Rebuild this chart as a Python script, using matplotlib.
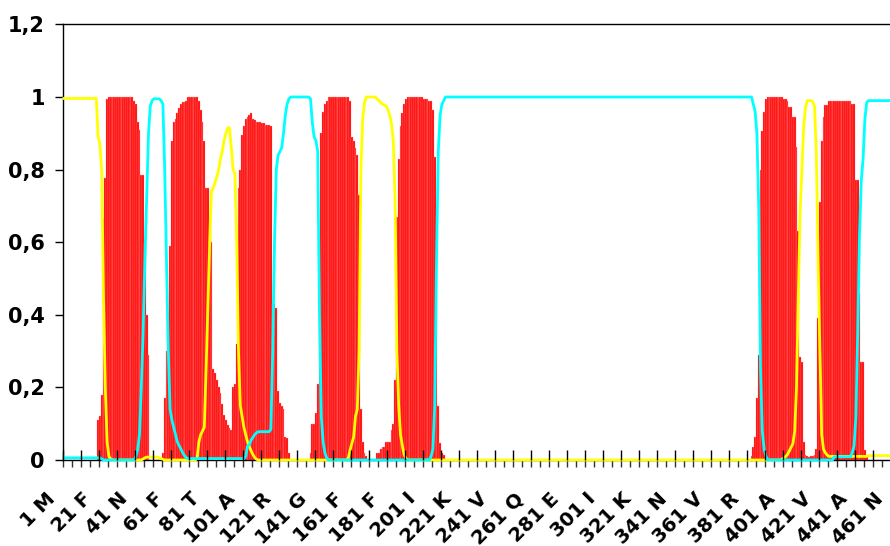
import numpy as np
import matplotlib
matplotlib.use("Agg")
import matplotlib.pyplot as plt
import matplotlib.transforms as mtransforms

plt.rcParams["font.family"] = ["DejaVu Sans"]
plt.rcParams["font.weight"] = "bold"

# posterior probabilities per residue (1..461)
# membrane (red bars)
membrane = (
    [0.0] * 19                                                     # 1-19
    + [0.11, 0.12, 0.18, 0.665, 0.776, 0.995]                      # 20-25
    + [1.0] * 14                                                   # 26-39
    + [0.99, 0.98, 0.93, 0.91, 0.785, 0.785, 0.6, 0.40, 0.29, 0.0]  # 40-49
    + [0.0] * 6                                                    # 50-55
    + [0.02, 0.17, 0.30, 0.39, 0.59, 0.88, 0.93, 0.94, 0.955, 0.97,
       0.98, 0.985, 0.985, 0.99]                                   # 56-69
    + [1.0] * 6                                                    # 70-75
    + [0.99, 0.965, 0.93, 0.88, 0.75, 0.75, 0.66, 0.6, 0.25, 0.24,
       0.22, 0.20, 0.185, 0.155, 0.125, 0.11, 0.096, 0.087, 0.083]  # 76-94
    + [0.20, 0.21, 0.32, 0.75, 0.80, 0.895, 0.92, 0.94, 0.946, 0.95,
       0.955, 0.94, 0.936, 0.932, 0.932, 0.932, 0.927, 0.927, 0.922, 0.922,
       0.922, 0.92, 0.43, 0.43, 0.42, 0.19, 0.156, 0.15, 0.14, 0.064,
       0.06, 0.018]                                                # 95-126
    + [0.0] * 11                                                   # 127-137
    + [0.02, 0.10, 0.10, 0.13, 0.21, 0.6, 0.9, 0.96, 0.98, 0.99]   # 138-147
    + [1.0] * 12                                                   # 148-159
    + [0.99, 0.89, 0.88, 0.86, 0.84, 0.73, 0.14, 0.05, 0.02, 0.01, 0.0]  # 160-170
    + [0.0] * 4                                                    # 171-174
    + [0.02, 0.02, 0.03, 0.037, 0.037, 0.05, 0.05, 0.05, 0.083, 0.10,
       0.22, 0.67, 0.83, 0.92, 0.955, 0.98, 0.995]                 # 175-191
    + [1.0] * 9                                                    # 192-200
    + [0.995, 0.995, 0.995, 0.99, 0.99, 0.964, 0.835, 0.43, 0.15, 0.046,
       0.018, 0.015, 0.0]                                          # 201-213
    + [0.0] * 169                                                  # 214-382
    + [0.01, 0.037, 0.064, 0.17, 0.29, 0.8, 0.905, 0.96, 0.995, 1.0]  # 383-392
    + [1.0] * 8                                                    # 393-400
    + [0.995, 0.995, 0.99, 0.973, 0.973, 0.946, 0.946, 0.863, 0.63, 0.285,
       0.27, 0.05, 0.014, 0.01, 0.008, 0.01, 0.012, 0.014, 0.03]   # 401-419
    + [0.39, 0.71, 0.88, 0.946, 0.978, 0.978, 0.99]                # 420-426
    + [0.99] * 12                                                  # 427-438
    + [0.98, 0.98, 0.77, 0.77, 0.46, 0.27, 0.27, 0.028, 0.01]      # 439-447
    + [0.0] * 14                                                   # 448-461
)

# inside (yellow line)
inside = (
    [0.996] * 19                                                   # 1-19
    + [0.89, 0.87, 0.8, 0.45, 0.2, 0.05, 0.01, 0.003]              # 20-27
    + [0.0] * 17                                                   # 28-44
    + [0.003, 0.006, 0.008, 0.008, 0.008, 0.008, 0.008, 0.008, 0.008,
       0.006, 0.004, 0.002]                                        # 45-56
    + [0.0] * 18                                                   # 57-74
    + [0.005, 0.05, 0.07, 0.08, 0.09, 0.25, 0.42, 0.6, 0.74, 0.75,
       0.765, 0.78, 0.80, 0.83, 0.85, 0.88, 0.90, 0.915, 0.915, 0.86,
       0.80, 0.79, 0.6, 0.3, 0.15, 0.12, 0.09, 0.07, 0.05, 0.037,
       0.025, 0.015, 0.007, 0.002]                                 # 75-108
    + [0.0] * 50                                                   # 109-158
    + [0.005, 0.028, 0.046, 0.064, 0.12, 0.14, 0.3, 0.8, 0.94, 0.985,
       1.0, 1.0, 1.0, 1.0, 1.0, 1.0]                               # 159-174
    + [0.995, 0.99, 0.985, 0.98, 0.978, 0.975, 0.965, 0.95, 0.925, 0.88,
       0.72, 0.3, 0.15, 0.07, 0.04, 0.015, 0.005, 0.0]             # 175-192
    + [0.0] * 207                                                  # 193-399
    + [0.003, 0.005, 0.01, 0.015, 0.025, 0.035, 0.045, 0.08, 0.2, 0.45,
       0.68, 0.8, 0.92, 0.97, 0.99, 0.99, 0.99, 0.987, 0.975, 0.85,
       0.55, 0.3, 0.07, 0.03, 0.02, 0.014]                         # 400-425
    + [0.01] * 22                                                  # 426-447
    + [0.012] * 14                                                 # 448-461
)

# outside (cyan line)
outside = (
    [0.006] * 21                                                   # 1-21
    + [0.003]                                                      # 22
    + [0.0] * 18                                                   # 23-40
    + [0.01, 0.03, 0.07, 0.2, 0.35, 0.55, 0.72, 0.9, 0.975, 0.99,
       0.995, 0.995, 0.995, 0.995, 0.99, 0.98]                     # 41-56
    + [0.8, 0.55, 0.3, 0.14, 0.11, 0.09, 0.07, 0.05, 0.04, 0.03,
       0.02, 0.012, 0.006]                                         # 57-69
    + [0.004] * 32                                                 # 70-101
    + [0.01, 0.038, 0.042, 0.055, 0.062, 0.07, 0.075, 0.078, 0.078, 0.078,
       0.078, 0.078, 0.078, 0.078, 0.085, 0.3, 0.6, 0.8, 0.84, 0.85,
       0.86, 0.9, 0.95, 0.98, 0.995]                               # 102-126
    + [1.0] * 11                                                   # 127-137
    + [0.995, 0.93, 0.89, 0.88, 0.85, 0.4, 0.12, 0.05, 0.02, 0.005]  # 138-147
    + [0.0] * 57                                                   # 148-204
    + [0.01, 0.03, 0.15, 0.55, 0.85, 0.95, 0.98, 0.99]             # 205-212
    + [1.0] * 171                                                  # 213-383
    + [0.98, 0.96, 0.9, 0.7, 0.25, 0.08, 0.03, 0.01]               # 384-391
    + [0.0] * 37                                                   # 392-428
    + [0.009] * 10                                                 # 429-438
    + [0.02, 0.04, 0.12, 0.35, 0.62, 0.77, 0.83, 0.94, 0.985]      # 439-447
    + [0.99] * 14                                                  # 448-461
)

residues = np.arange(1, len(membrane) + 1)

# x tick labels (every 20 residues)
label_pos = [1, 21, 41, 61, 81, 101, 121, 141, 161, 181, 201, 221, 241,
             261, 281, 301, 321, 341, 361, 381, 401, 421, 441, 461]
label_txt = ["1 M", "21 F", "41 N", "61 F", "81 T", "101 A", "121 R", "141 G",
             "161 F", "181 F", "201 I", "221 K", "241 V", "261 Q", "281 E",
             "301 I", "321 K", "341 N", "361 V", "381 R", "401 A", "421 V",
             "441 A", "461 N"]
y_ticks = [0, 0.2, 0.4, 0.6, 0.8, 1.0, 1.2]
y_labels = ["0", "0,2", "0,4", "0,6", "0,8", "1", "1,2"]

W, H = 890, 546
fig = plt.figure(figsize=(W / 100, H / 100), dpi=100)
ax = fig.add_axes([63 / W, 86 / H, 461 * 1.8 / W, 1.2 * 363 / H])

ax.bar(residues, membrane, width=1.0, color="#ff0000",
       edgecolor="#ff9a9a", linewidth=0.25, zorder=2)
ax.plot(residues, inside, color="#ffff00", lw=2, zorder=3, clip_on=False)
ax.plot(residues, outside, color="#00ffff", lw=2, zorder=4, clip_on=False)

ax.set_xlim(0.5, len(membrane) + 0.5)
ax.set_ylim(0, 1.2)

for s in ["left", "bottom", "top"]:
    ax.spines[s].set_color("black")
    ax.spines[s].set_linewidth(1)
ax.spines["right"].set_visible(False)

ax.set_yticks(y_ticks)
ax.set_yticklabels(y_labels)
ax.tick_params(axis="y", direction="out", length=6, width=1, pad=7,
               labelsize=15)

# residue labels every 20, tick marks outside every 5 residues
ax.set_xticks(label_pos)
ax.set_xticklabels(label_txt, rotation=45, ha="right", va="top",
                   rotation_mode="anchor")
ax.tick_params(axis="x", which="major", length=0, pad=21, labelsize=14)
ax.set_xticks(np.arange(0.5, len(membrane) + 1, 5), minor=True)
ax.tick_params(axis="x", which="minor", direction="out", length=5,
               width=1, color="#333333")
shift = mtransforms.ScaledTranslation(-18 / 100, 0, fig.dpi_scale_trans)
for lab in ax.get_xticklabels():
    lab.set_transform(lab.get_transform() + shift)

# longer ticks pointing up into the plot every 10 residues
ax2 = ax.twiny()
ax2.set_xlim(ax.get_xlim())
ax2.xaxis.set_ticks_position("bottom")
ax2.set_xticks(np.arange(0.5, len(membrane) + 1, 10))
ax2.set_xticklabels([])
ax2.tick_params(axis="x", direction="in", length=7, width=1, color="black")
for s in ax2.spines.values():
    s.set_visible(False)

fig.savefig("out.png", dpi=100)
